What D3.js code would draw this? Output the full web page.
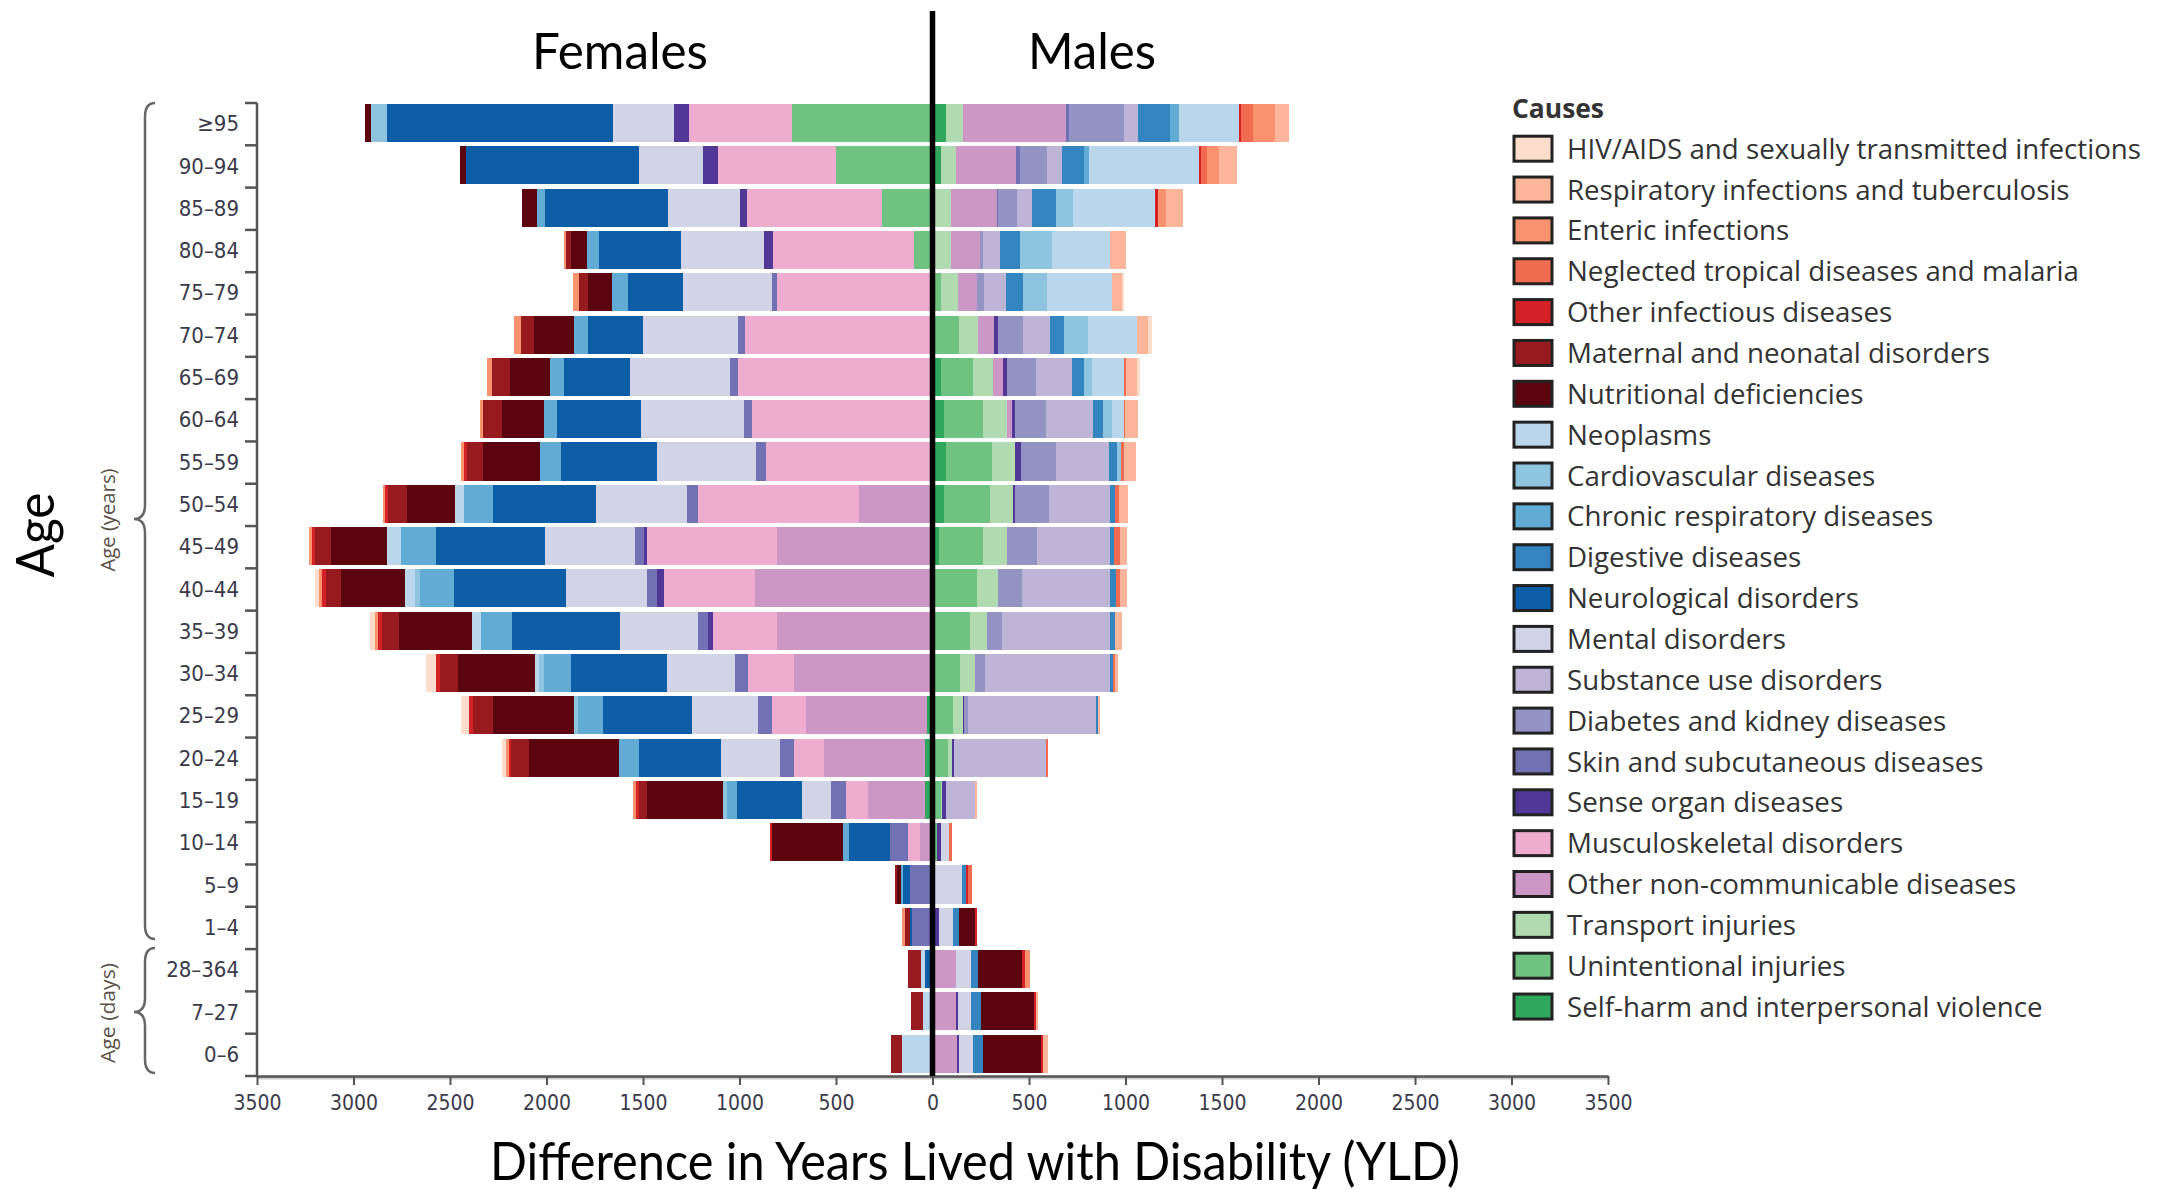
<!DOCTYPE html>
<html><head><meta charset="utf-8">
<script src="https://cdn.jsdelivr.net/npm/d3@7"></script>
<style>body{margin:0;background:#fff}svg{display:block}</style>
</head><body>
<svg id="c" width="2159" height="1190"></svg>
<script>
// ---------- DATA ----------
const ages = ["≥95","90–94","85–89","80–84","75–79","70–74","65–69","60–64","55–59","50–54","45–49","40–44","35–39","30–34","25–29","20–24","15–19","10–14","5–9","1–4","28–364","7–27","0–6"];
const causes = ["HIV/AIDS and sexually transmitted infections","Respiratory infections and tuberculosis","Enteric infections","Neglected tropical diseases and malaria","Other infectious diseases","Maternal and neonatal disorders","Nutritional deficiencies","Neoplasms","Cardiovascular diseases","Chronic respiratory diseases","Digestive diseases","Neurological disorders","Mental disorders","Substance use disorders","Diabetes and kidney diseases","Skin and subcutaneous diseases","Sense organ diseases","Musculoskeletal disorders","Other non-communicable diseases","Transport injuries","Unintentional injuries","Self-harm and interpersonal violence"];
const causeColors = ["#fcdcca","#fbb59b","#f8926f","#f16b50","#d52227","#961a1e","#5b0511","#bad6ea","#8fc4de","#62abd4","#3484c0","#0e5ea7","#d1d3e6","#bdb4d6","#9494c4","#7271b4","#513897","#eeadcf","#cc97c5","#b1dab1","#6fc27f","#2fa75d"];
// Difference in YLD per age group (negative = Females side, positive = Males side)
const hiv          = [0,0,0,0,14,17,17,0,0,0,0,-23,-25,-49,-42,-17,0,0,0,0,0,0,0];
const respInf      = [74,90,92,83,52,60,52,67,62,43,35,35,35,19,9,0,9,0,0,0,0,12,29];
const enteric      = [112,62,41,-10,-32,-34,-26,-17,-15,-11,-11,-15,-17,0,0,-17,-14,0,0,-17,26,0,0];
const ntd          = [64,33,0,0,0,0,12,7,14,21,31,22,0,9,0,14,0,12,21,0,0,0,0];
const otherInf     = [9,10,12,0,0,0,0,0,-17,-15,-15,-21,-19,-21,-20,-12,-15,-12,14,9,17,9,9];
const maternal     = [0,0,0,-24,-44,-69,-95,-96,-83,-97,-85,-76,-87,-95,-107,-91,-42,0,-12,-26,-64,-62,-56];
const nutritional  = [-30,-30,-77,-81,-123,-210,-204,-220,-292,-248,-290,-334,-381,-396,-420,-467,-394,-369,-20,81,225,276,302];
const neoplasms    = [314,569,429,299,334,254,164,60,0,-49,-72,-53,-47,-23,0,0,0,0,0,0,-24,-51,-157];
const cardio       = [-85,0,88,166,123,123,43,45,24,0,0,-25,0,-25,-17,0,-24,0,0,0,0,0,0];
const chronicResp  = [45,26,-42,-65,-87,-69,-75,-68,-108,-150,-180,-174,-159,-140,-130,-105,-49,-29,-10,0,0,0,0];
const digestive    = [164,114,121,105,90,73,62,54,43,29,22,31,28,16,9,0,0,0,17,35,40,52,52];
const neuro        = [-1172,-893,-633,-423,-282,-288,-341,-432,-501,-535,-569,-580,-561,-499,-463,-426,-340,-215,-37,-9,-37,0,0];
const mental       = [-315,-333,-375,-429,-464,-492,-518,-534,-514,-472,-466,-421,-402,-351,-343,-306,-147,45,155,69,76,69,69];
const substance    = [73,78,81,86,112,138,190,244,273,314,375,454,560,646,665,473,152,0,0,0,0,0,0];
const diabetes     = [287,142,97,17,41,130,150,157,183,175,159,123,78,54,19,0,0,0,0,0,0,0,0];
const skin         = [17,17,7,0,-26,-36,-44,-43,-51,-53,-44,-53,-53,-70,-70,-71,-81,-93,-115,-108,0,0,0];
const sense        = [-79,-79,-36,-46,0,21,17,19,26,10,-19,-34,-25,0,9,10,17,21,0,35,0,9,10];
const msk          = [-534,-613,-698,-734,-804,-970,-1006,-935,-861,-838,-671,-472,-332,-235,-176,-154,-113,-59,0,0,0,0,0];
const otherNcd     = [534,314,238,152,98,86,52,26,0,-379,-806,-920,-806,-719,-628,-526,-296,-66,0,0,122,122,129];
const transport    = [86,79,94,94,88,95,107,121,123,121,121,112,86,78,52,24,7,0,0,0,0,0,0];
const unintentional= [-726,-498,-264,-95,42,139,166,204,237,238,228,229,194,141,104,79,44,22,0,0,0,0,0];
const selfHarm     = [70,42,0,0,0,0,42,60,70,60,35,0,0,0,-29,-37,-37,0,0,0,0,0,0];
const xTickValues  = [-3500,-3000,-2500,-2000,-1500,-1000,-500,0,500,1000,1500,2000,2500,3000,3500];

const seriesValues = [hiv,respInf,enteric,ntd,otherInf,maternal,nutritional,neoplasms,cardio,chronicResp,digestive,neuro,mental,substance,diabetes,skin,sense,msk,otherNcd,transport,unintentional,selfHarm];

// ---------- BUILD ----------
const table = ages.map((a,i)=>{const o={age:a}; causes.forEach((c,j)=>o[c]=seriesValues[j][i]); return o;});
const color = d3.scaleOrdinal().domain(causes).range(causeColors);
const stacked = d3.stack().keys(causes.slice().reverse()).offset(d3.stackOffsetDiverging)(table);

const svg = d3.select("#c");
const x = d3.scaleLinear().domain([-3500,3500]).range([257,1608]);
const y = d3.scaleBand().domain(ages).range([103,1076]).padding(0);
const barH = y.bandwidth()*0.9;

// bars
svg.append("g").attr("shape-rendering","crispEdges")
  .selectAll("g").data(stacked).join("g").attr("fill",d=>color(d.key))
  .selectAll("rect").data(d=>d).join("rect")
  .attr("x",d=>x(Math.min(d[0],d[1])))
  .attr("width",d=>Math.abs(x(d[1])-x(d[0])))
  .attr("y",d=>y(d.data.age)+1)
  .attr("height",barH);

// left axis
const yAx = svg.append("g").attr("transform",`translate(${x.range()[0]},0)`)
  .call(d3.axisLeft(y).tickSize(0).tickPadding(18));
yAx.select(".domain").remove();
yAx.selectAll("text").attr("font-family","'DejaVu Sans Condensed','DejaVu Sans',sans-serif")
  .attr("font-size",22).attr("fill","#3a3a4a");
const bounds = ages.map(a=>y(a)).concat([y.range()[1]]);
svg.append("g").selectAll("line").data(bounds).join("line")
  .attr("x1",x.range()[0]-12).attr("x2",x.range()[0]).attr("y1",d=>d).attr("y2",d=>d)
  .attr("stroke","#555").attr("stroke-width",2.5);
svg.append("line").attr("x1",x.range()[0]).attr("x2",x.range()[0])
  .attr("y1",y.range()[0]).attr("y2",y.range()[1]+1).attr("stroke","#555").attr("stroke-width",2.5);

// bottom axis
svg.append("line").attr("x1",x.range()[0]).attr("x2",x.range()[1])
  .attr("y1",y.range()[1]+2).attr("y2",y.range()[1]+2).attr("stroke","#c8c8c8").attr("stroke-width",3);
const xAx = svg.append("g").attr("transform",`translate(0,${y.range()[1]})`)
  .call(d3.axisBottom(x).tickValues(xTickValues).tickFormat(d=>Math.abs(d)).tickSize(9).tickSizeOuter(0).tickPadding(10));
xAx.select(".domain").attr("stroke","#555").attr("stroke-width",2.5);
xAx.selectAll(".tick line").attr("stroke","#555").attr("stroke-width",2);
xAx.selectAll("text").attr("font-family","'DejaVu Sans Condensed','DejaVu Sans',sans-serif")
  .attr("font-size",21).attr("fill","#3a3a4a");

// center line
svg.append("line").attr("x1",x(0)).attr("x2",x(0)).attr("y1",11).attr("y2",y.range()[1])
  .attr("stroke","#000").attr("stroke-width",5.5);

// titles
const tFont = "Lato,'Open Sans',sans-serif";
svg.append("text").attr("x",620).attr("y",69).attr("text-anchor","middle").attr("font-family",tFont)
  .attr("font-size",51).attr("textLength",176).attr("lengthAdjust","spacingAndGlyphs").text("Females");
svg.append("text").attr("x",1092).attr("y",69).attr("text-anchor","middle").attr("font-family",tFont)
  .attr("font-size",51).attr("textLength",128).attr("lengthAdjust","spacingAndGlyphs").text("Males");
svg.append("text").attr("transform","translate(54,535) rotate(-90)").attr("text-anchor","middle").attr("font-family",tFont)
  .attr("font-size",53).attr("textLength",85).attr("lengthAdjust","spacingAndGlyphs").text("Age");
svg.append("text").attr("x",975).attr("y",1180).attr("text-anchor","middle").attr("font-family",tFont)
  .attr("font-size",53).attr("textLength",970).attr("lengthAdjust","spacingAndGlyphs").text("Difference in Years Lived with Disability (YLD)");

// age group braces
function brace(x0, xm, xp, y0, ym, y1){
  const r=14;
  return `M${x0},${y0} Q${xm},${y0} ${xm},${y0+r} L${xm},${ym-r} Q${xm},${ym} ${xp},${ym} Q${xm},${ym} ${xm},${ym+r} L${xm},${y1-r} Q${xm},${y1} ${x0},${y1}`;
}
svg.append("path").attr("d",brace(155,145,134,103,519,939)).attr("fill","none").attr("stroke","#666").attr("stroke-width",2.5);
svg.append("path").attr("d",brace(155,145,134,948,1012,1073)).attr("fill","none").attr("stroke","#666").attr("stroke-width",2.5);
svg.append("text").attr("transform","translate(115,520) rotate(-90)").attr("text-anchor","middle")
  .attr("font-family","'Open Sans',sans-serif").attr("font-size",20).attr("fill","#5a5048")
  .attr("textLength",103).attr("lengthAdjust","spacingAndGlyphs").text("Age (years)");
svg.append("text").attr("transform","translate(115,1013) rotate(-90)").attr("text-anchor","middle")
  .attr("font-family","'Open Sans',sans-serif").attr("font-size",20).attr("fill","#5a5048")
  .attr("textLength",100).attr("lengthAdjust","spacingAndGlyphs").text("Age (days)");

// legend
const lg = svg.append("g");
lg.append("text").attr("x",1512).attr("y",118).attr("font-family","'Open Sans',sans-serif").attr("font-weight","bold")
  .attr("font-size",27).attr("fill","#333").attr("textLength",92).attr("lengthAdjust","spacingAndGlyphs").text("Causes");
const items = lg.selectAll("g.it").data(causes).join("g").attr("class","it")
  .attr("transform",(d,i)=>`translate(0,${148.7+40.85*i})`);
items.append("rect").attr("x",1514).attr("y",-12.5).attr("width",38).attr("height",25)
  .attr("fill",d=>color(d)).attr("stroke","#222").attr("stroke-width",3);
const lt = items.append("text").attr("x",1567).attr("y",0).attr("dy","0.36em")
  .attr("font-family","'Open Sans',sans-serif").attr("font-size",28).attr("fill","#333").text(d=>d);
const ref = lt.nodes()[0].getComputedTextLength();
const k = 574/ref;
lt.each(function(){ const w=this.getComputedTextLength(); d3.select(this).attr("textLength",w*k).attr("lengthAdjust","spacingAndGlyphs"); });
</script>
</body></html>
